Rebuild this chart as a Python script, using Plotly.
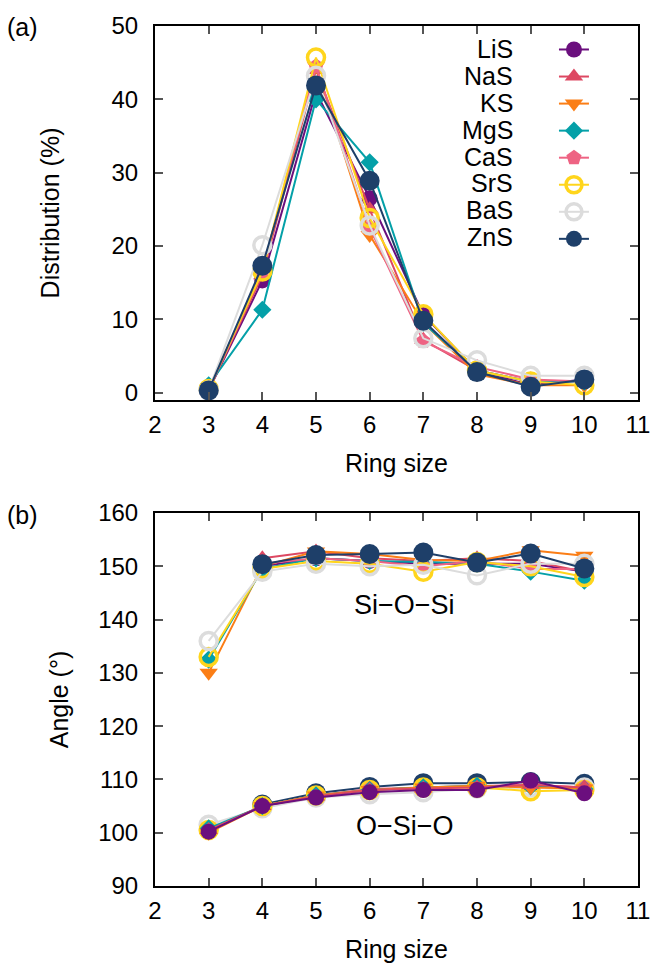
import plotly.graph_objects as go

ring = [3, 4, 5, 6, 7, 8, 9, 10]
names = ["LiS", "NaS", "KS", "MgS", "CaS", "SrS", "BaS", "ZnS"]

# Ring-size distribution (%)
dist_LiS = [0.3, 15.3, 41.0, 26.5, 10.6, 3.0, 1.0, 1.8]
dist_NaS = [0.3, 16.0, 44.0, 25.0, 7.2, 3.0, 1.5, 1.5]
dist_KS  = [0.3, 16.5, 44.5, 21.5, 9.5, 2.5, 1.0, 1.0]
dist_MgS = [1.0, 11.3, 40.0, 31.4, 9.5, 3.0, 1.5, 1.5]
dist_CaS = [0.3, 16.5, 44.5, 22.5, 7.0, 3.5, 1.8, 1.5]
dist_SrS = [0.5, 16.5, 45.7, 23.8, 10.7, 3.0, 1.5, 1.0]
dist_BaS = [0.3, 20.1, 43.2, 22.8, 7.4, 4.4, 2.3, 2.3]
dist_ZnS = [0.3, 17.3, 41.9, 28.9, 9.8, 2.8, 0.8, 1.8]

# Si-O-Si angle (deg); None = no 3-ring data
siosi_LiS = [None, 150.0, 151.5, 151.0, 150.5, 150.5, 150.5, 149.0]
siosi_NaS = [None, 151.5, 152.8, 151.5, 151.0, 151.5, 151.0, 149.0]
siosi_KS  = [130.0, 150.0, 152.8, 152.3, 151.2, 151.0, 153.0, 152.0]
siosi_MgS = [132.5, 149.5, 151.5, 151.0, 150.8, 150.5, 149.0, 147.3]
siosi_CaS = [None, 150.5, 151.5, 151.0, 150.0, 151.0, 149.5, 149.5]
siosi_SrS = [133.0, 149.5, 151.0, 150.5, 149.0, 150.8, 150.0, 148.0]
siosi_BaS = [136.0, 149.0, 150.5, 150.0, 150.3, 148.3, 150.5, 150.5]
siosi_ZnS = [None, 150.4, 152.1, 152.3, 152.6, 150.7, 152.4, 149.6]

# O-Si-O angle (deg)
osio_LiS = [100.2, 105.0, 106.6, 107.6, 108.0, 108.0, 109.8, 107.4]
osio_NaS = [100.5, 105.0, 106.8, 108.0, 108.3, 108.5, 109.0, 108.5]
osio_KS  = [100.0, 105.0, 107.0, 108.0, 108.5, 108.8, 108.5, 108.3]
osio_MgS = [100.8, 105.0, 107.0, 108.0, 108.5, 108.8, 108.7, 108.2]
osio_CaS = [100.5, 105.0, 107.0, 108.2, 108.5, 108.8, 109.0, 108.5]
osio_SrS = [100.5, 105.0, 107.0, 108.0, 108.5, 108.5, 107.8, 108.0]
osio_BaS = [101.5, 104.6, 106.6, 107.2, 107.6, 108.3, 108.5, 108.5]
osio_ZnS = [None, 105.3, 107.4, 108.6, 109.3, 109.3, 109.5, 109.2]

dist = [dist_LiS, dist_NaS, dist_KS, dist_MgS, dist_CaS, dist_SrS, dist_BaS, dist_ZnS]
siosi = [siosi_LiS, siosi_NaS, siosi_KS, siosi_MgS, siosi_CaS, siosi_SrS, siosi_BaS, siosi_ZnS]
osio = [osio_LiS, osio_NaS, osio_KS, osio_MgS, osio_CaS, osio_SrS, osio_BaS, osio_ZnS]

colors = ["#6b0f7e", "#dd4862", "#fb7e16", "#04a0a8", "#ee6383", "#ffd51c", "#dcdcdc", "#1e3f69"]
symbols = ["circle", "triangle-up", "triangle-down", "diamond", "pentagon",
           "circle-open", "circle-open", "circle"]
sizes = [16, 16, 16, 14, 16, 17, 17, 20]
mlw = [0, 0, 0, 0, 0, 3.5, 3.5, 0]

def marker(i):
    if symbols[i] == "circle-open":
        return dict(symbol="circle-open", size=sizes[i], color=colors[i],
                    line=dict(width=mlw[i], color=colors[i]))
    return dict(symbol=symbols[i], size=sizes[i], color=colors[i], line=dict(width=0))

fig = go.Figure()
for i, n in enumerate(names):
    fig.add_trace(go.Scatter(x=ring, y=dist[i], name=" ", mode="lines+markers",
                             line=dict(color=colors[i], width=2), marker=marker(i),
                             xaxis="x", yaxis="y", showlegend=True))
for i, n in enumerate(names):
    fig.add_trace(go.Scatter(x=ring, y=siosi[i], name=n, mode="lines+markers",
                             line=dict(color=colors[i], width=2), marker=marker(i),
                             xaxis="x2", yaxis="y2", showlegend=False, connectgaps=False))
for i in reversed(range(len(names))):
    fig.add_trace(go.Scatter(x=ring, y=osio[i], name=names[i], mode="lines+markers",
                             line=dict(color=colors[i], width=2), marker=marker(i),
                             xaxis="x2", yaxis="y2", showlegend=False))

font = "Liberation Sans, Arial, sans-serif"
TICK = 24
TITLE = 25
axis_common = dict(showline=True, linecolor="black", linewidth=2, mirror="ticks",
                   ticks="inside", ticklen=8, tickwidth=1.5, tickcolor="#555",
                   showgrid=False, zeroline=False,
                   tickfont=dict(size=TICK, color="black", family=font))

# Legend geometry (labels drawn to the left of the symbols, as in the original)
H = 971
MT, MB = 20, 84
plot_h = H - MT - MB
LEG_FONT = 18.5
row_h = LEG_FONT * 1.3 + 3
leg_top_px = 25.0
leg_top = 1 - (leg_top_px - MT) / plot_h
legend_labels = []
for i, n in enumerate(names):
    cy = leg_top_px + 5 + row_h * (i + 0.5)
    legend_labels.append(dict(text=n, xref="paper", yref="paper", x=0.745,
                              y=1 - (cy - MT) / plot_h, xanchor="right", yanchor="middle",
                              showarrow=False, font=dict(size=25)))

fig.update_layout(
    width=662, height=H,
    margin=dict(l=155, r=16, t=MT, b=MB),
    paper_bgcolor="white", plot_bgcolor="white",
    font=dict(family=font, color="black"),
    xaxis=dict(domain=[0, 1], anchor="y", range=[2, 11], dtick=1, ticklabelstandoff=2,
               title=dict(text="Ring size", font=dict(size=TITLE), standoff=18), **axis_common),
    yaxis=dict(domain=[0.5652, 1], anchor="x", range=[-1, 50], dtick=10, ticklabelstandoff=10,
               title=dict(text="Distribution (%)", font=dict(size=TITLE), standoff=45), **axis_common),
    xaxis2=dict(domain=[0, 1], anchor="y2", range=[2, 11], dtick=1, ticklabelstandoff=2,
                title=dict(text="Ring size", font=dict(size=TITLE), standoff=18), **axis_common),
    yaxis2=dict(domain=[0, 0.4337], anchor="x2", range=[90, 160], dtick=10, ticklabelstandoff=10,
                title=dict(text="Angle (°)", font=dict(size=TITLE), standoff=22), **axis_common),
    legend=dict(x=0.826, y=leg_top, xanchor="left", yanchor="top", bgcolor="rgba(0,0,0,0)",
                font=dict(size=LEG_FONT, family=font), tracegroupgap=0, borderwidth=0),
    annotations=[
        dict(text="(a)", xref="paper", yref="paper", x=-0.31, y=1.018, xanchor="left",
             yanchor="top", showarrow=False, font=dict(size=25)),
        dict(text="(b)", xref="paper", yref="paper", x=-0.31, y=0.45, xanchor="left",
             yanchor="top", showarrow=False, font=dict(size=25)),
        dict(text="Si−O−Si", xref="x2", yref="y2", x=6.65, y=142.7, showarrow=False,
             font=dict(size=27)),
        dict(text="O−Si−O", xref="x2", yref="y2", x=6.65, y=101.3, showarrow=False,
             font=dict(size=27)),
    ] + legend_labels,
)

fig.write_html("out.html")
